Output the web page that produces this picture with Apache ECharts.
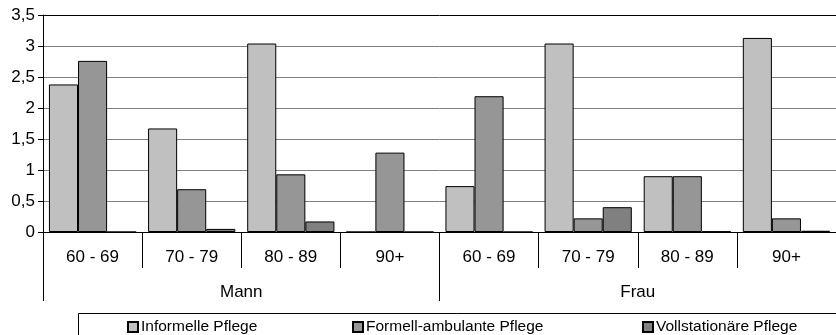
<!DOCTYPE html>
<html>
<head>
<meta charset="utf-8">
<script src="https://cdn.jsdelivr.net/npm/echarts@6/dist/echarts.min.js"></script>
<style>html,body{margin:0;padding:0;background:#fff}#c{width:836px;height:335px}</style>
</head>
<body>
<div id="c"></div>
<script>
const ageGroups = ['60 - 69','70 - 79','80 - 89','90+','60 - 69','70 - 79','80 - 89','90+'];
const sexGroups = ['Mann','Frau'];
const seriesNames = ['Informelle Pflege','Formell-ambulante Pflege','Vollstationäre Pflege'];
const informelle = [2.38, 1.67, 3.04, 0, 0.74, 3.04, 0.90, 3.13];
const formell    = [2.76, 0.69, 0.93, 1.28, 2.19, 0.22, 0.90, 0.22];
const voll       = [0, 0.05, 0.17, 0, 0, 0.40, 0.01, 0.02];
const colors = ['#C0C0C0','#969696','#808080'];
const FONT = '"Liberation Sans", Arial, sans-serif';

const chart = echarts.init(document.getElementById('c'), null, {renderer:'canvas'});
const mk = (name, data, i) => ({
  name, type:'bar', data, xAxisIndex:0, yAxisIndex:0,
  barGap:'0%', barCategoryGap:'12%',
  itemStyle:{color:colors[i], borderColor:'#000', borderWidth:1},
  emphasis:{disabled:true}, animation:false
});
const legendPos = [127, 352, 642];
chart.setOption({
  animation:false,
  grid:{left:43, right:0, top:15, bottom:103, containLabel:false},
  xAxis:[
    {type:'category', data:ageGroups, position:'bottom',
     axisLine:{show:true, lineStyle:{color:'#000', width:1}},
     axisTick:{show:true, interval:0, length:36, lineStyle:{color:'#000'}},
     axisLabel:{interval:0, margin:17, color:'#000', fontFamily:FONT, fontSize:17}},
    {type:'category', data:sexGroups, position:'bottom',
     axisLine:{show:false},
     axisTick:{show:true, interval:0, length:69, lineStyle:{color:'#000'}},
     axisLabel:{interval:0, margin:52, color:'#000', fontFamily:FONT, fontSize:17}}
  ],
  yAxis:{type:'value', min:0, max:3.5, interval:0.5,
    axisLine:{show:true, lineStyle:{color:'#000'}},
    axisTick:{show:true, length:5, lineStyle:{color:'#000'}},
    axisLabel:{color:'#000', fontFamily:FONT, fontSize:17, margin:8,
      formatter:v => String(v).replace('.', ',')},
    splitLine:{show:true, lineStyle:{color:['#808080','#808080','#808080','#808080','#808080','#808080','#808080','#000'], width:1}}
  },
  legend: seriesNames.map((n,i)=>({
    data:[n], left:legendPos[i], top:319, icon:'rect', itemWidth:10, itemHeight:10, itemGap:0,
    padding:0, textStyle:{color:'#000', fontFamily:FONT, fontSize:15.5, padding:[0,0,0,-2]},
    selectedMode:false
  })),
  graphic:[{type:'rect', shape:{x:78.5, y:313.5, width:800, height:60}, style:{fill:null, stroke:'#000', lineWidth:1}, silent:true}],
  series:[mk(seriesNames[0], informelle, 0), mk(seriesNames[1], formell, 1), mk(seriesNames[2], voll, 2)]
});
</script>
</body>
</html>
